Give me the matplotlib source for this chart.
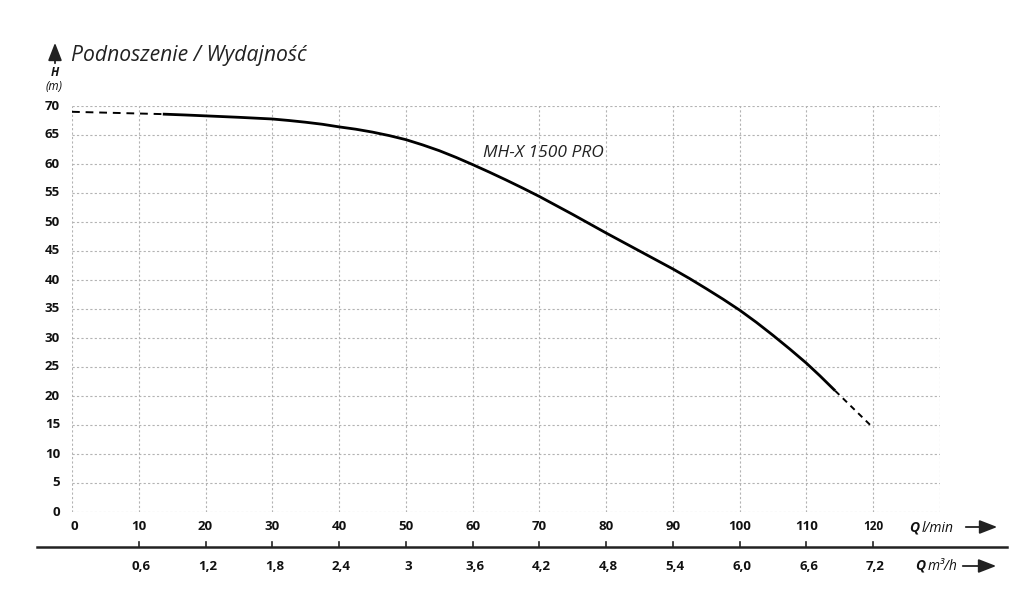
import matplotlib
matplotlib.use("Agg")
import matplotlib.pyplot as plt
from matplotlib.transforms import blended_transform_factory
from matplotlib.patches import FancyArrowPatch

# ---- data ----
q_solid = [13.6, 17, 20, 25, 30, 32.5, 35, 37.5, 40, 42.5, 45, 47.5, 50, 52.5, 55, 57.5, 60,
           62.5, 65, 67.5, 70, 72.5, 75, 77.5, 80, 82.5, 85, 87.5, 90, 92.5, 95, 97.5, 100,
           102.5, 105, 107.5, 110, 112, 114.3]
h_solid = [68.6, 68.45, 68.3, 68.05, 67.76, 67.5, 67.2, 66.85, 66.4, 66.0, 65.5, 64.9, 64.2, 63.3, 62.3, 61.15, 59.9,
           58.6, 57.25, 55.85, 54.4, 52.85, 51.3, 49.7, 48.1, 46.55, 45.0, 43.45, 41.9, 40.25, 38.5, 36.7, 34.8,
           32.7, 30.45, 28.1, 25.65, 23.5, 20.9]
q_dash_start = [0, 13.6]
h_dash_start = [69.0, 68.6]
q_dash_end = [114.3, 120]
h_dash_end = [20.9, 14.5]

x_ticks = [0, 10, 20, 30, 40, 50, 60, 70, 80, 90, 100, 110, 120]
x_labels = ["0", "10", "20", "30", "40", "50", "60", "70", "80", "90", "100", "110", "120"]
y_ticks = [0, 5, 10, 15, 20, 25, 30, 35, 40, 45, 50, 55, 60, 65, 70]
m3h_ticks = [10, 20, 30, 40, 50, 60, 70, 80, 90, 100, 110, 120]
m3h_labels = ["0,6", "1,2", "1,8", "2,4", "3", "3,6", "4,2", "4,8", "5,4", "6,0", "6,6", "7,2"]

title = "Podnoszenie / Wydajność"
curve_label = "MH-X 1500 PRO"

plt.rcParams['font.family'] = ['Open Sans', 'DejaVu Sans']

W, H = 1024, 614
fig = plt.figure(figsize=(W / 100, H / 100), dpi=100)

def fx(px):
    return px / W

def fy(py):
    return 1 - py / H

ax = fig.add_axes([fx(72), fy(512), fx(940) - fx(72), fy(106) - fy(512)])
ax.set_xlim(0, 130)
ax.set_ylim(0, 70)
for s in ax.spines.values():
    s.set_visible(False)
ax.set_xticks([])
ax.set_yticks([])

grid_kw = dict(color="#b3b3b3", lw=0.8, ls=(0, (2, 2)), zorder=1)
for x in range(0, 131, 10):
    ax.axvline(x, **grid_kw)
for y in y_ticks:
    ax.axhline(y, **grid_kw)

ax.plot(q_solid, h_solid, color="black", lw=2.0, solid_capstyle="butt", solid_joinstyle="round", zorder=3)
ax.plot(q_dash_start, h_dash_start, color="black", lw=1.4, ls=(0, (4, 3)), zorder=3)
ax.plot(q_dash_end, h_dash_end, color="black", lw=1.4, ls=(0, (3, 2.5)), zorder=3)

ax.text(61.5, 60.6, curve_label, fontsize=12.5, style="italic", color="#222222", ha="left", va="bottom")

# y tick labels
for y in y_ticks:
    ax.text(-1.8, y, str(y), fontsize=9.5, fontweight="bold", ha="right", va="center", color="#111111")

# x tick labels (l/min)
tr_x = blended_transform_factory(ax.transData, fig.transFigure)
for x, lab in zip(x_ticks, x_labels):
    fs = 8.5 if lab == "120" else 9.5
    xoff = 0.4 if lab == "0" else 0
    ax.text(x + xoff, fy(527), lab, transform=tr_x, fontsize=fs, fontweight="bold",
            ha="center", va="center", color="#111111")

# secondary axis line
fig.add_artist(plt.Line2D([fx(37), fx(1007)], [fy(547), fy(547)], transform=fig.transFigure,
                          color="#222222", lw=1.8))
for x, lab in zip(m3h_ticks, m3h_labels):
    fig.add_artist(plt.Line2D([x, x], [fy(547), fy(542)], transform=tr_x, color="#222222", lw=1.2))
    ax.text(x + 0.3, fy(566), lab, transform=tr_x, fontsize=9.5, fontweight="bold",
            ha="center", va="center", color="#111111")

# axis unit labels with arrows
fig.text(fx(914), fy(527), "Q", fontsize=10, fontweight="bold", style="italic", ha="center", va="center", color="#111111")
fig.text(fx(922), fy(528), "l/min", fontsize=10, style="italic", ha="left", va="center", color="#111111")
fig.text(fx(920), fy(566), "Q", fontsize=10, fontweight="bold", style="italic", ha="center", va="center", color="#111111")
fig.text(fx(928), fy(566), "m³/h", fontsize=10, style="italic", ha="left", va="center", color="#111111")

arrow_kw = dict(arrowstyle="-|>,head_length=0.9,head_width=0.35", color="#222222", lw=1.3)
fig.add_artist(FancyArrowPatch((fx(963), fy(527)), (fx(1000), fy(527)),
                               transform=fig.transFigure, mutation_scale=12, **arrow_kw))
fig.add_artist(FancyArrowPatch((fx(960), fy(566)), (fx(999), fy(566)),
                               transform=fig.transFigure, mutation_scale=12, **arrow_kw))
# H arrow
fig.add_artist(FancyArrowPatch((fx(55), fy(66)), (fx(55), fy(40)),
                               transform=fig.transFigure, mutation_scale=12, **arrow_kw))
fig.text(fx(55), fy(72), "H", fontsize=8.5, fontweight="bold", style="italic", ha="center", va="center", color="#111111")
fig.text(fx(54), fy(87), "(m)", fontsize=8.5, style="italic", ha="center", va="center", color="#111111")

fig.text(fx(71), fy(56), title, fontsize=15.2, style="italic", ha="left", va="center", color="#222222")

fig.savefig("out.png", dpi=100, facecolor="white")
